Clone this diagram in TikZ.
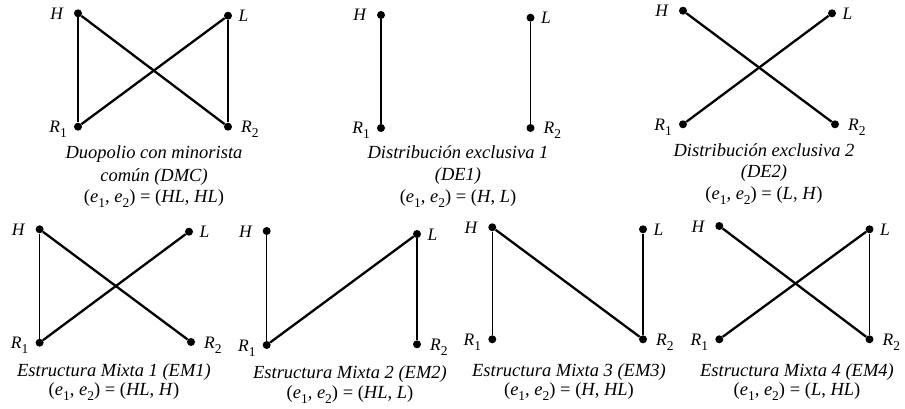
\documentclass[tikz,border=0pt]{standalone}
\usepackage{fontspec}
\setmainfont{Liberation Serif}
\newcommand\sbs[1]{\raisebox{-5pt}{\fontsize{13.5}{13.5}\selectfont #1}}
\newcommand\mkpanel[5]{%
  \node[dot] (#1H) at (#2) {};
  \node[dot] (#1L) at (#3) {};
  \node[dot] (#1R1) at (#4) {};
  \node[dot] (#1R2) at (#5) {};
  \node[lbl, anchor=base east] (#1Hl) at ([shift={(-14,6)}]#1H) {\textit{H}};
  \node[lbl, anchor=base west] (#1Ll) at ([shift={(10.5,6)}]#1L) {\textit{L}};
  \node[lbl, anchor=base east] (#1R1l) at ([shift={(-11,6)}]#1R1) {\textit{R}\sbs{1}};
  \node[lbl, anchor=base west] (#1R2l) at ([shift={(13,6)}]#1R2) {\textit{R}\sbs{2}};
}
\begin{document}
\begin{tikzpicture}[x=1pt,y=-1pt,
  dot/.style={circle,fill=black,inner sep=0pt,minimum size=8pt},
  lbl/.style={inner sep=0pt,font=\fontsize{17.5}{20}\selectfont},
  captxt/.style={inner sep=0pt,anchor=base,font=\fontsize{18.5}{22}\selectfont},
  thinl/.style={line width=1.3pt},
  thickl/.style={line width=2.3pt}]
\useasboundingbox (0,0) rectangle (905,409);

% Panel 1: DMC
\mkpanel{a}{78,13.3}{228,15.7}{78,126.7}{228,126.7}
\draw[thinl] (aH) -- (aR1);
\draw[thinl] (aL) -- (aR2);
\draw[thickl] (aH) -- (aR2);
\draw[thickl] (aL) -- (aR1);
\node[captxt] (ac1) at (154,159) {\textit{Duopolio con minorista}};
\node[captxt] (ac2) at (154,181) {\textit{común (DMC)}};
\node[captxt] (ac3) at (154,202) {(\textit{e}\sbs{1}, \textit{e}\sbs{2}) = (\textit{HL}, \textit{HL})};

% Panel 2: DE1
\mkpanel{b}{381,15}{530.5,17.7}{381,128}{530.5,128}
\draw[thinl] (bH) -- (bR1);
\draw[thinl] (bL) -- (bR2);
\node[captxt] (bc1) at (458,158) {\textit{Distribución exclusiva 1}};
\node[captxt] (bc2) at (458,180) {\textit{(DE1)}};
\node[captxt] (bc3) at (458,202) {(\textit{e}\sbs{1}, \textit{e}\sbs{2}) = (\textit{H}, \textit{L})};

% Panel 3: DE2
\mkpanel{c}{683,10.7}{832,13.3}{683,124.3}{835,124.3}
\draw[thickl] (cH) -- (cR2);
\draw[thickl] (cL) -- (cR1);
\node[captxt] (cc1) at (764,157) {\textit{Distribución exclusiva 2}};
\node[captxt] (cc2) at (764,178) {\textit{(DE2)}};
\node[captxt] (cc3) at (764,200) {(\textit{e}\sbs{1}, \textit{e}\sbs{2}) = (\textit{L}, \textit{H})};

% Panel 4: EM1
\mkpanel{d}{39.6,229.3}{189,231.7}{39.6,342.7}{191,342}
\draw[thinl] (dH) -- (dR1);
\draw[thickl] (dH) -- (dR2);
\draw[thickl] (dL) -- (dR1);
\node[captxt] (dc1) at (114,376) {\textit{Estructura Mixta 1 (EM1)}};
\node[captxt] (dc2) at (114,395) {(\textit{e}\sbs{1}, \textit{e}\sbs{2}) = (\textit{HL}, \textit{H})};

% Panel 5: EM2
\mkpanel{e}{266.7,231}{417,234}{266.7,345}{417,344.3}
\draw[thinl] (eH) -- (eR1);
\draw[thickl] (eL) -- (eR1);
\draw[thinl] (eL) -- (eR2);
\node[captxt] (ec1) at (350,378) {\textit{Estructura Mixta 2 (EM2)}};
\node[captxt] (ec2) at (350,398) {(\textit{e}\sbs{1}, \textit{e}\sbs{2}) = (\textit{HL}, \textit{L})};

% Panel 6: EM3
\mkpanel{f}{492.3,227.3}{643,229.3}{492.3,339.3}{643,339.3}
\draw[thinl] (fH) -- (fR1);
\draw[thickl] (fH) -- (fR2);
\draw[thinl] (fL) -- (fR2);
\node[captxt] (fc1) at (569,376) {\textit{Estructura Mixta 3 (EM3)}};
\node[captxt] (fc2) at (569,395) {(\textit{e}\sbs{1}, \textit{e}\sbs{2}) = (\textit{H}, \textit{HL})};

% Panel 7: EM4
\mkpanel{g}{719.3,226}{869.5,229.3}{719.3,339.3}{869.5,339.3}
\draw[thickl] (gH) -- (gR2);
\draw[thickl] (gL) -- (gR1);
\draw[thinl] (gL) -- (gR2);
\node[captxt] (gc1) at (797,376) {\textit{Estructura Mixta 4 (EM4)}};
\node[captxt] (gc2) at (797,395) {(\textit{e}\sbs{1}, \textit{e}\sbs{2}) = (\textit{L}, \textit{HL})};
\end{tikzpicture}
\end{document}
